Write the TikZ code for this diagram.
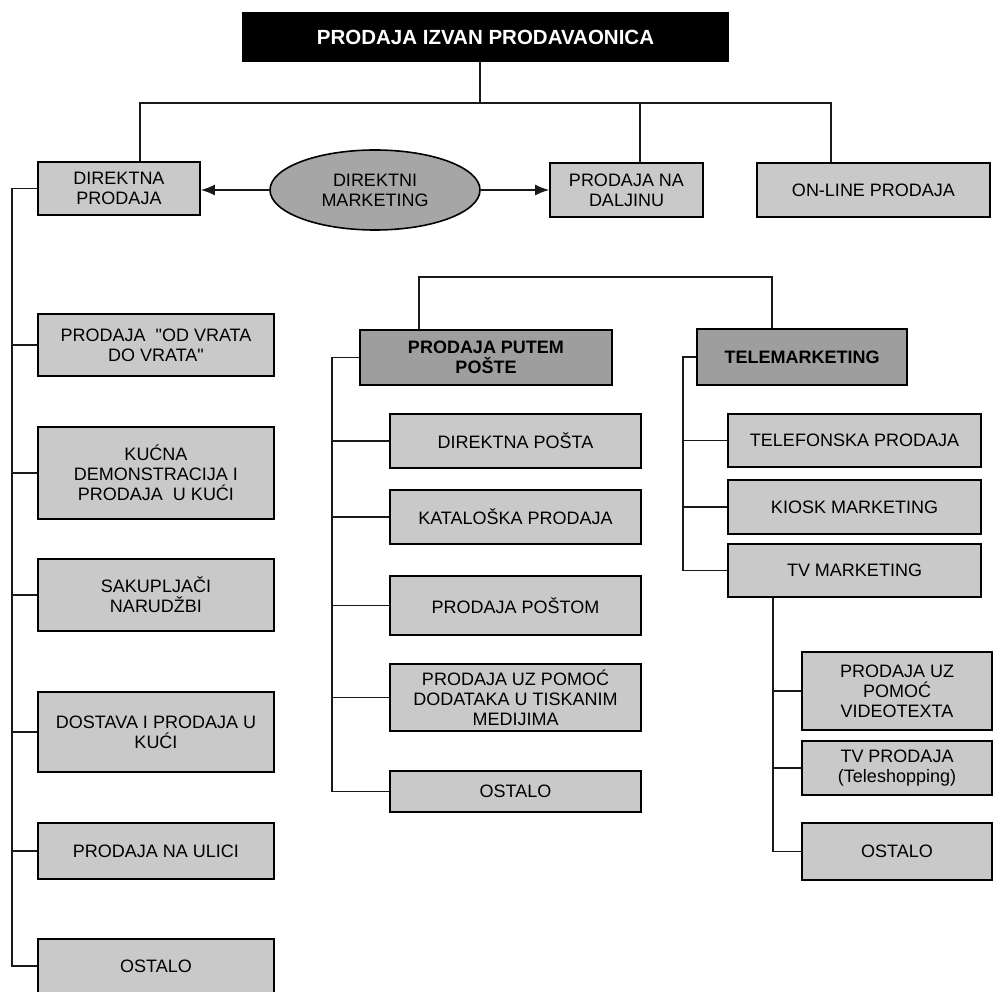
\documentclass[tikz,border=0pt]{standalone}
\usepackage{fontspec}
\setmainfont{Liberation Sans}
\newfontfamily\qfont{Liberation Sans}
\usetikzlibrary{arrows.meta,shapes.geometric}
\begin{document}
\begin{tikzpicture}[x=1pt,y=-1pt,
  lbox/.style={draw=black, line width=1.6pt, fill=black!21, align=center, inner sep=0pt, font=\fontsize{18}{20}\selectfont},
  dbox/.style={lbox, fill=black!38, font=\fontsize{18}{20}\selectfont\bfseries},
  tbox/.style={lbox, fill=black, text=white, font=\fontsize{20.5}{22}\selectfont\bfseries},
  ebox/.style={lbox, ellipse, fill=black!35},
  sz/.style 2 args={minimum width=#1pt, minimum height=#2pt},
  conn/.style={line width=1.5pt, black!90},
  arr/.style={conn, -{Latex[length=14pt,width=11pt]}}]
\useasboundingbox (0,0) rectangle (998,992);
\fill[white] (0,0) rectangle (998,992);

% top level
\node[tbox, sz={485}{48}] (top) at (485.5,37) {PRODAJA IZVAN PRODAVAONICA};
\node[lbox, sz={162}{53}] (dp) at (119,188.5) {DIREKTNA\\PRODAJA};
\node[ebox, sz={210}{80}] (dm) at (375,190) {DIREKTNI\\MARKETING};
\node[lbox, sz={153}{54}] (pnd) at (626.5,190) {PRODAJA NA\\DALJINU};
\node[lbox, sz={233}{54}] (olp) at (873.5,190) {ON-LINE PRODAJA};

% left column
\node[lbox, sz={236}{62}] (l1) at (156,345) {PRODAJA \ {\qfont"}OD VRATA\\DO VRATA{\qfont"}};
\node[lbox, sz={236}{92}] (l2) at (156,473) {KUĆNA\\DEMONSTRACIJA I\\PRODAJA \ U KUĆI};
\node[lbox, sz={236}{72}] (l3) at (156,595) {SAKUPLJAČI\\NARUDŽBI};
\node[lbox, sz={236}{80}] (l4) at (156,732) {DOSTAVA I PRODAJA U\\KUĆI};
\node[lbox, sz={236}{56}] (l5) at (156,851) {PRODAJA NA ULICI};
\node[lbox, sz={236}{54}] (l6) at (156,966) {OSTALO};

% middle column
\node[dbox, sz={252}{55}] (pp) at (486,357.5) {PRODAJA PUTEM\\POŠTE};
\node[lbox, sz={251}{54}] (m1) at (515.5,441) {DIREKTNA POŠTA};
\node[lbox, sz={251}{54}] (m2) at (515.5,517) {KATALOŠKA PRODAJA};
\node[lbox, sz={251}{59}] (m3) at (515.5,605.5) {PRODAJA POŠTOM};
\node[lbox, sz={251}{67}] (m4) at (515.5,697.5) {PRODAJA UZ POMOĆ\\DODATAKA U TISKANIM\\MEDIJIMA};
\node[lbox, sz={251}{41}] (m5) at (515.5,791.5) {OSTALO};

% right column
\node[dbox, sz={210}{56}] (tm) at (802,357) {TELEMARKETING};
\node[lbox, sz={253}{53}] (r1) at (854.5,440.5) {TELEFONSKA PRODAJA};
\node[lbox, sz={253}{54}] (r2) at (854.5,507) {KIOSK MARKETING};
\node[lbox, sz={253}{53}] (r3) at (854.5,570.5) {TV MARKETING};
\node[lbox, sz={190}{78}] (s1) at (897,691) {PRODAJA UZ\\POMOĆ\\VIDEOTEXTA};
\node[lbox, sz={190}{54}] (s2) at (897,768) {TV PRODAJA\\(Teleshopping)};
\node[lbox, sz={190}{57}] (s3) at (897,851.5) {OSTALO};

% bus coordinates
\coordinate (busT) at (480,103);
\coordinate (busL) at (140,103);
\coordinate (busM) at (640,103);
\coordinate (busR) at (831,103);
\coordinate (lt) at (12,0);
\coordinate (brL) at (419,277);
\coordinate (brR) at (772,277);
\coordinate (mt) at (332,0);
\coordinate (rt) at (683,0);
\coordinate (st) at (773,0);

% top connectors
\draw[conn] (busT |- top.south) -- (busT);
\draw[conn] (busL |- dp.north) -- (busL) -- (busR) -- (busR |- olp.north);
\draw[conn] (busM) -- (busM |- pnd.north);
\draw[arr] (dm.west) -- (dm.west -| dp.east);
\draw[arr] (dm.east) -- (dm.east -| pnd.west);

% left tree
\draw[conn] (dp.west) -| (lt |- l6.west) -- (l6.west);
\foreach \n in {l1,l2,l3,l4,l5} \draw[conn] (lt |- \n.west) -- (\n.west);

% middle bracket
\draw[conn] (brL |- pp.north) -- (brL) -- (brR) -- (brR |- tm.north);

% middle tree
\draw[conn] (pp.west) -| (mt |- m5.west) -- (m5.west);
\foreach \n in {m1,m2,m3,m4} \draw[conn] (mt |- \n.west) -- (\n.west);

% right tree
\draw[conn] (tm.west) -| (rt |- r3.west) -- (r3.west);
\foreach \n in {r1,r2} \draw[conn] (rt |- \n.west) -- (\n.west);
\draw[conn] (st |- r3.south) -- (st |- s3.west) -- (s3.west);
\foreach \n in {s1,s2} \draw[conn] (st |- \n.west) -- (\n.west);
\end{tikzpicture}
\end{document}
